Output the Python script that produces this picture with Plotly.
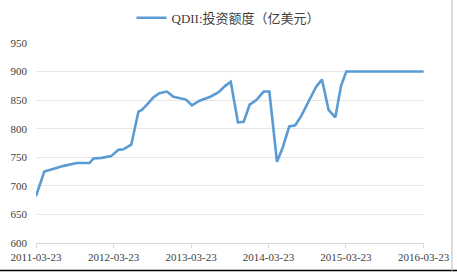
import plotly.graph_objects as go

dates = [
    "2011-03-23", "2011-05-01", "2011-06-15", "2011-08-01", "2011-10-01",
    "2011-11-30", "2011-12-19", "2012-01-27", "2012-03-11", "2012-04-15",
    "2012-05-08", "2012-06-14", "2012-07-18", "2012-08-03", "2012-08-27",
    "2012-09-27", "2012-10-25", "2012-11-29", "2012-12-30", "2013-01-31",
    "2013-02-27", "2013-03-27", "2013-05-02", "2013-06-22", "2013-07-31",
    "2013-08-31", "2013-09-26", "2013-10-30", "2013-11-26", "2013-12-24",
    "2014-01-25", "2014-02-28", "2014-03-27", "2014-05-02", "2014-05-30",
    "2014-06-29", "2014-07-27", "2014-08-24", "2014-09-28", "2014-11-02",
    "2014-11-30", "2014-12-31", "2015-02-01", "2015-02-28", "2015-03-25",
    "2015-06-23", "2015-09-23", "2015-12-23", "2016-03-23",
]
values = [
    682, 725, 730, 735, 740,
    740, 748, 749, 752, 763,
    764, 772, 830, 833, 842,
    855, 862, 865, 856, 854,
    851, 841, 849, 856, 864,
    875, 882, 811, 812, 842,
    850, 865, 865, 742, 768,
    804, 806, 822, 848, 873,
    886, 833, 820, 875, 900,
    900, 900, 900, 900,
]
tick_vals = ["2011-03-23", "2012-03-23", "2013-03-23", "2014-03-23", "2015-03-23", "2016-03-23"]
series_name = "QDII:投资额度（亿美元）"

fig = go.Figure()
fig.add_trace(go.Scatter(
    x=dates, y=values, mode="lines", name=series_name,
    line=dict(color="#5B9BD5", width=2.6),
))

serif = "Liberation Serif"
tick_font = dict(family=serif, size=11, color="#404040")

fig.update_layout(
    width=457, height=275,
    margin=dict(l=36, r=33, t=43, b=32, autoexpand=False),
    paper_bgcolor="white", plot_bgcolor="white",
    showlegend=True,
    legend=dict(
        orientation="h", xref="container", yref="container",
        x=0.5, xanchor="center", y=0.99, yanchor="top",
        font=dict(family="Liberation Serif, Noto Sans CJK SC", size=13, color="#404040"),
        itemwidth=30,
    ),
    xaxis=dict(
        type="date",
        range=["2011-03-23", "2016-03-25"],
        tickvals=tick_vals, ticktext=tick_vals,
        tickfont=tick_font,
        showgrid=False, zeroline=False,
        showline=True, linecolor="#D9D9D9", linewidth=1,
        ticks="outside", ticklen=4, tickcolor="#D9D9D9",
    ),
    yaxis=dict(
        range=[600, 950], dtick=50,
        tickfont=tick_font,
        showgrid=True, gridcolor="#E6E6E6", gridwidth=1,
        zeroline=False, showline=False,
        ticks="", ticklabelstandoff=8,
    ),
    shapes=[
        dict(type="line", xref="paper", yref="paper",
             x0=-0.1, x1=1.1, y0=-0.138, y1=-0.138,
             line=dict(color="#000000", width=1.5)),
        dict(type="line", xref="paper", yref="paper",
             x0=1.072, x1=1.072, y0=-0.138, y1=1.25,
             line=dict(color="#D0D0D0", width=1.5)),
    ],
)

fig.write_html("out.html")
